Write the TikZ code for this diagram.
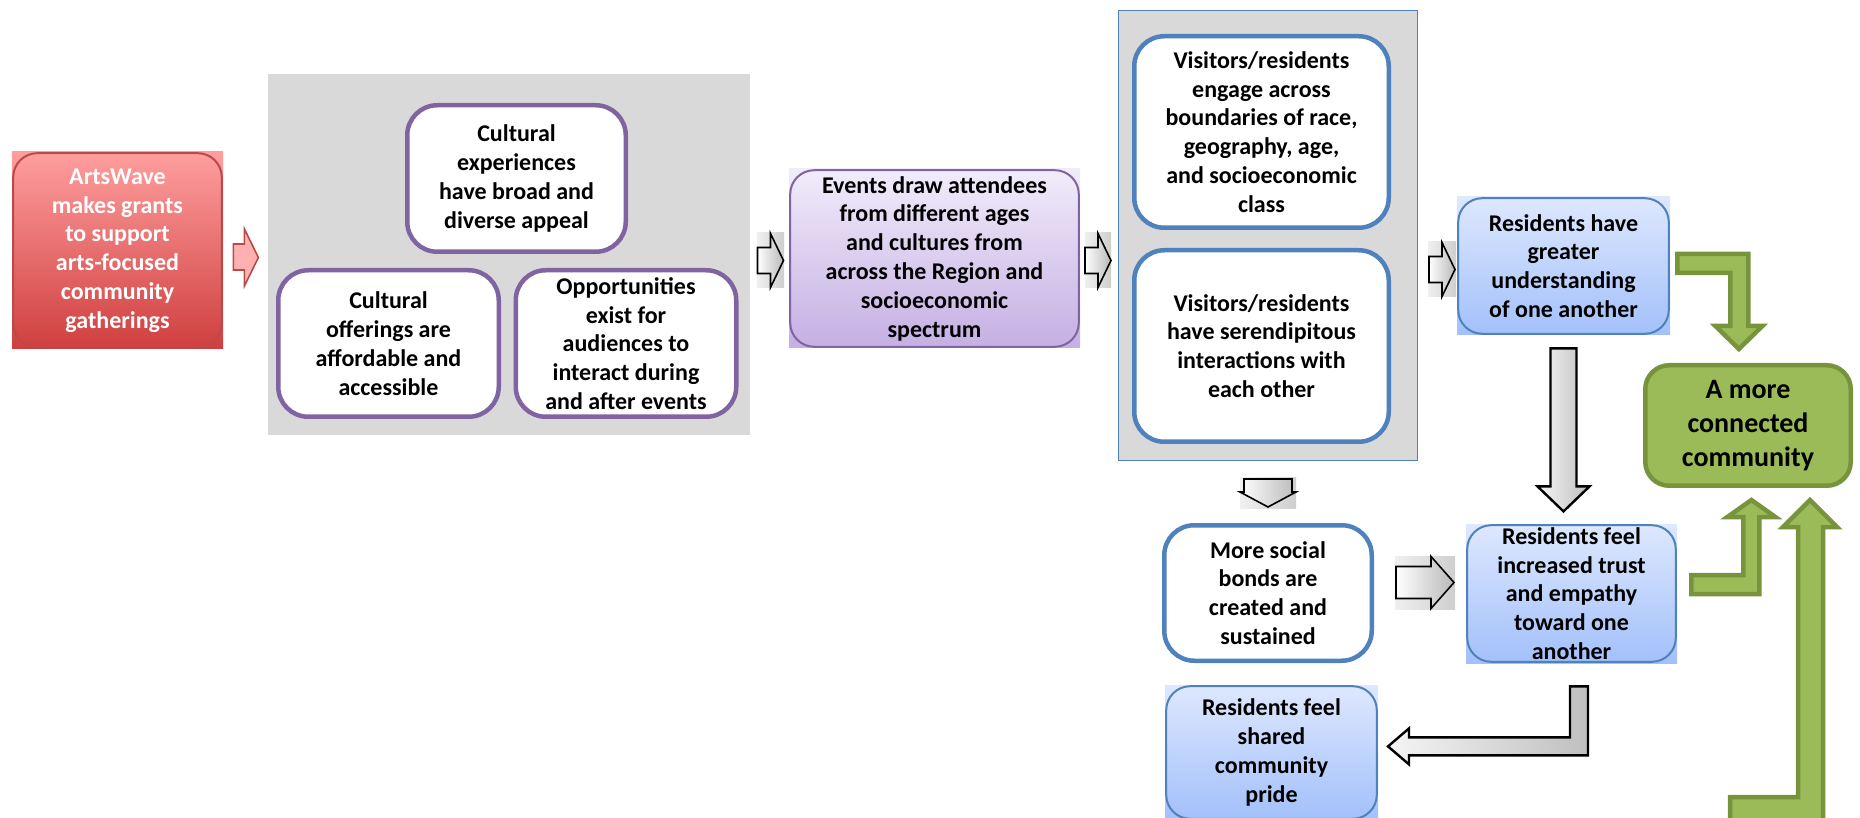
\documentclass[tikz,border=0pt]{standalone}
\usepackage{fontspec}
\setmainfont{Carlito}

\definecolor{panelgray}{HTML}{D9D9D9}
\definecolor{purpleline}{HTML}{8064A2}
\definecolor{blueline}{HTML}{4F81BD}
\definecolor{redtop}{HTML}{FF9E9E}
\definecolor{redbottom}{HTML}{CF3F3F}
\definecolor{redline}{HTML}{B94A48}
\definecolor{lavtop}{HTML}{F1ECFA}
\definecolor{lavbottom}{HTML}{C5AFE3}
\definecolor{bluetop}{HTML}{DEE8FE}
\definecolor{bluebottom}{HTML}{A2C0FA}
\definecolor{greenfill}{HTML}{9BBB59}
\definecolor{greenline}{HTML}{77933C}

\tikzset{
  boxtext/.style={align=center, inner sep=0pt, font=\fontsize{12}{14.4}\selectfont\bfseries},
  panel/.style={fill=panelgray, inner sep=0pt},
  wbox/.style={boxtext, draw=#1, fill=white, line width=2.25pt, rounded corners=15pt},
  gbox/.style n args={3}{boxtext, top color=#1, bottom color=#2,
    path picture={\draw[#3, line width=1pt, rounded corners=12pt]
      ([shift={(0.6pt,0.6pt)}]path picture bounding box.south west) rectangle
      ([shift={(-0.6pt,-0.6pt)}]path picture bounding box.north east);}},
  arrowbg/.style={inner sep=0pt, left color=gray!12, right color=gray!38},
  garrow/.style={draw=black, line width=0.8pt, left color=white, right color=gray!55},
  bigarrow/.style={draw=black, line width=1.2pt, left color=gray!8, right color=gray!50},
  pinkarrow/.style={draw=redline, fill=redtop!80, line width=0.8pt},
  greenarrow/.style={draw=greenline, fill=greenfill, line width=2.25pt},
}

\begin{document}
\begin{tikzpicture}[x=0.5pt, y=-0.5pt]
    \useasboundingbox (0,0) rectangle (1860,818);

    % Grey panels
    \node[panel, minimum width=241pt, minimum height=180.5pt] (p1) at (509,254.5) {};
    \node[panel, draw=blueline, line width=0.8pt, minimum width=149.5pt, minimum height=225pt] (p2) at (1268,235.5) {};

    % Grants
    \node[gbox={redtop}{redbottom}{redline}, text=white, minimum width=105.5pt, minimum height=98.5pt] (art) at (117.5,250.5) {ArtsWave\\makes grants\\to support\\arts-focused\\community\\gatherings};

    % Cultural offerings (first panel)
    \node[wbox=purpleline, minimum width=109.25pt, minimum height=73.25pt] (c1) at (516.5,178.5) {Cultural\\experiences\\have broad and\\diverse appeal};
    \node[wbox=purpleline, minimum width=110.25pt, minimum height=73.25pt] (c2) at (388.5,343.5) {Cultural\\offerings are\\affordable and\\accessible};
    \node[wbox=purpleline, minimum width=110.25pt, minimum height=73.25pt] (c3) at (626,343.5) {Opportunities\\exist for\\audiences to\\interact during\\and after events};

    % Events
    \node[gbox={lavtop}{lavbottom}{purpleline}, minimum width=145.5pt, minimum height=89.5pt] (ev) at (934.5,258.5) {Events draw attendees\\from different ages\\and cultures from\\across the Region and\\socioeconomic\\spectrum};

    % Visitors/residents (second panel)
    \node[wbox=blueline, minimum width=127.25pt, minimum height=95.75pt] (v1) at (1261.5,132) {Visitors/residents\\engage across\\boundaries of race,\\geography, age,\\and socioeconomic\\class};
    \node[wbox=blueline, minimum width=127.25pt, minimum height=95.75pt] (v2) at (1261.5,346) {Visitors/residents\\have serendipitous\\interactions with\\each other};

    % Outcomes
    \node[gbox={bluetop}{bluebottom}{blueline}, minimum width=106.5pt, minimum height=69pt] (und) at (1563.5,266) {Residents have\\greater\\understanding\\of one another};
    \node[wbox=blueline, minimum width=103.75pt, minimum height=67.75pt] (soc) at (1268,593) {More social\\bonds are\\created and\\sustained};
    \node[gbox={bluetop}{bluebottom}{blueline}, minimum width=105.5pt, minimum height=69.5pt] (trust) at (1571.5,593.5) {Residents feel\\increased trust\\and empathy\\toward one\\another};
    \node[gbox={bluetop}{bluebottom}{blueline}, minimum width=106.5pt, minimum height=67.5pt] (pride) at (1271.5,752.5) {Residents feel\\shared\\community\\pride};
    \node[boxtext, draw=greenline, fill=greenfill, line width=2.25pt, rounded corners=12pt, font=\fontsize{14}{17}\selectfont\bfseries, minimum width=102.75pt, minimum height=60.25pt] (gc) at (1748,425.5) {A more\\connected\\community};

    % Small block arrows
    \draw[pinkarrow, shift={(art.east)}] (10,-6.5) -- (21,-6.5) -- (21,-21.5) -- (35,7) -- (21,35.5) -- (21,19.5) -- (10,19.5) -- cycle;
    \node[arrowbg, minimum width=13.5pt, minimum height=27.5pt] (g1) at (770.5,260.5) {};
    \node[arrowbg, minimum width=13pt, minimum height=27.5pt] (g2) at (1098,260.5) {};
    \node[arrowbg, minimum width=14pt, minimum height=27.5pt] (g3) at (1442,269.5) {};
    \foreach \g in {g1,g2,g3} {
        \draw[garrow, shift={(\g)}] (-13,-13) -- (0,-13) -- (0,-27) -- (13,0) -- (0,27) -- (0,13) -- (-13,13) -- cycle;
    }
    \node[arrowbg, minimum width=28pt, minimum height=15pt] (g4) at (1268,493) {};
    \draw[garrow, shift={(g4)}] (-24,-14) -- (24,-14) -- (24,-1) -- (28,-1) -- (0,14) -- (-28,-1) -- (-24,-1) -- cycle;
    \node[arrowbg, minimum width=30pt, minimum height=26.5pt] (g5) at (1425,582.5) {};
    \draw[garrow, shift={(g5)}] (-29,-16) -- (6,-16) -- (6,-26) -- (29,0) -- (6,26) -- (6,16) -- (-29,16) -- cycle;

    % Large grey arrows
    \draw[bigarrow, shift={(und.south)}] (-13,13) -- (13,13) -- (13,151) -- (26,151) -- (0,176) -- (-26,151) -- (-13,151) -- cycle;
    \draw[bigarrow, shift={(trust.south)}] (-1.5,23) -- (16.5,23) -- (16.5,92) -- (-162.5,92) -- (-162.5,101) -- (-183.5,83) -- (-162.5,65) -- (-162.5,74) -- (-1.5,74) -- cycle;

    % Green arrows into the community box
    \draw[greenarrow, shift={(und.east)}] (7,-12) -- (78,-12) -- (78,60) -- (92,60) -- (68.5,83) -- (45,60) -- (60,60) -- (60,7) -- (7,7) -- cycle;
    \draw[greenarrow, shift={(trust.east)}] (14,0.5) -- (14,-18.5) -- (66,-18.5) -- (66,-76.5) -- (50,-76.5) -- (74,-93.5) -- (98,-76.5) -- (82,-76.5) -- (82,0.5) -- cycle;
    \draw[greenarrow, shift={(gc.south)}] (-18,335) -- (-18,309) -- (50,309) -- (50,39) -- (35,39) -- (62,12) -- (89,39) -- (75,39) -- (75,335) -- cycle;
\end{tikzpicture}
\end{document}
